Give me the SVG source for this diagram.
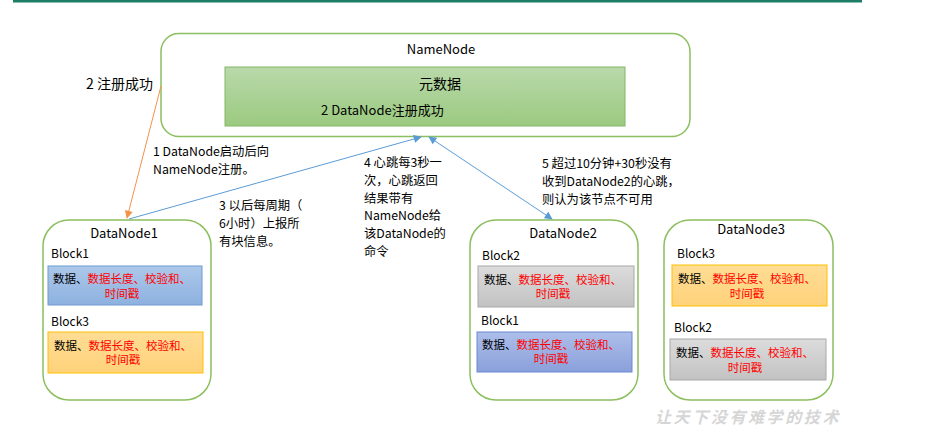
<svg xmlns="http://www.w3.org/2000/svg" width="942" height="432" viewBox="0 0 942 432">
<style>
text{font-family:"Noto Sans CJK SC","Liberation Sans",sans-serif;fill:#000;}
.t13{font-size:13px;}
.t12{font-size:12px;}
.lbl{font-size:12.3px;}
.red{fill:#ff0000;}
.node{fill:#fff;stroke:#8cbf5f;stroke-width:1.5;}
.blk{font-size:11.5px;}
</style>
<defs>
<linearGradient id="gGreen" x1="0" y1="0" x2="0" y2="1"><stop offset="0" stop-color="#b9d9aa"/><stop offset="1" stop-color="#9bca80"/></linearGradient>
<linearGradient id="gBlue1" x1="0" y1="0" x2="0" y2="1"><stop offset="0" stop-color="#acc8ea"/><stop offset="1" stop-color="#8db1df"/></linearGradient>
<linearGradient id="gBlue2" x1="0" y1="0" x2="0" y2="1"><stop offset="0" stop-color="#adbeea"/><stop offset="1" stop-color="#8aa0da"/></linearGradient>
<linearGradient id="gGray" x1="0" y1="0" x2="0" y2="1"><stop offset="0" stop-color="#dcdcdc"/><stop offset="1" stop-color="#c2c2c2"/></linearGradient>
<linearGradient id="gOrange" x1="0" y1="0" x2="0" y2="1"><stop offset="0" stop-color="#ffdd95"/><stop offset="1" stop-color="#ffd27a"/></linearGradient>
<marker id="arrB" viewBox="0 0 10 10" refX="9" refY="5" markerWidth="9" markerHeight="8" markerUnits="userSpaceOnUse" orient="auto-start-reverse"><path d="M0,0 L10,5 L0,10 z" fill="#5b9bd5"/></marker>
<marker id="arrO" viewBox="0 0 10 10" refX="9" refY="5" markerWidth="9" markerHeight="8" markerUnits="userSpaceOnUse" orient="auto"><path d="M0,0 L10,5 L0,10 z" fill="#f4924a"/></marker>
</defs>

<rect x="13" y="0" width="849" height="2.5" fill="#1e7d67"/>

<g id="namenode">
<rect class="node" x="161" y="33.5" width="529" height="103" rx="18"/>
<text class="t13" x="441" y="54" text-anchor="middle">NameNode</text>
<rect x="225" y="67" width="400" height="59" fill="url(#gGreen)" stroke="#85b665" stroke-width="1"/>
<text x="440" y="89" font-size="14" text-anchor="middle">元数据</text>
<text class="t13" x="321" y="115">2 DataNode注册成功</text>
</g>

<g id="datanode1">
<rect class="node" x="43" y="220" width="168" height="180" rx="26"/>
<text class="t13" x="124" y="238" text-anchor="middle">DataNode1</text>
<text class="t12" x="51" y="258">Block1</text>
<rect x="48" y="266" width="154" height="39" fill="url(#gBlue1)" stroke="#6f9bd1" stroke-width="1"/>
<text class="blk" x="53" y="282.5">数据、<tspan class="red">数据长度、校验和、</tspan></text>
<text class="blk red" x="122" y="297.5" text-anchor="middle">时间戳</text>
<text class="t12" x="51" y="326">Block3</text>
<rect x="48" y="332" width="155" height="41" fill="url(#gOrange)" stroke="#ffc000" stroke-width="1"/>
<text class="blk" x="54" y="349.5">数据、<tspan class="red">数据长度、校验和、</tspan></text>
<text class="blk red" x="123" y="364" text-anchor="middle">时间戳</text>
</g>

<g id="datanode2">
<rect class="node" x="470" y="220" width="168" height="180" rx="26"/>
<text class="t13" x="563" y="238" text-anchor="middle">DataNode2</text>
<text class="t12" x="482" y="260">Block2</text>
<rect x="478" y="266" width="156" height="41" fill="url(#gGray)" stroke="#a8a8a8" stroke-width="1"/>
<text class="blk" x="484" y="283.5">数据、<tspan class="red">数据长度、校验和、</tspan></text>
<text class="blk red" x="553" y="298" text-anchor="middle">时间戳</text>
<text class="t12" x="481" y="325">Block1</text>
<rect x="477" y="332" width="155" height="40" fill="url(#gBlue2)" stroke="#6b88cf" stroke-width="1"/>
<text class="blk" x="482" y="348.5">数据、<tspan class="red">数据长度、校验和、</tspan></text>
<text class="blk red" x="551" y="363" text-anchor="middle">时间戳</text>
</g>

<g id="datanode3">
<rect class="node" x="664" y="220" width="169" height="180" rx="26"/>
<text class="t13" x="751" y="234" text-anchor="middle">DataNode3</text>
<text class="t12" x="677" y="258">Block3</text>
<rect x="672" y="265" width="155" height="41" fill="url(#gOrange)" stroke="#ffc000" stroke-width="1"/>
<text class="blk" x="678" y="282.5">数据、<tspan class="red">数据长度、校验和、</tspan></text>
<text class="blk red" x="747" y="297.5" text-anchor="middle">时间戳</text>
<text class="t12" x="674" y="332">Block2</text>
<rect x="670" y="339" width="156" height="41" fill="url(#gGray)" stroke="#a8a8a8" stroke-width="1"/>
<text class="blk" x="676" y="356.5">数据、<tspan class="red">数据长度、校验和、</tspan></text>
<text class="blk red" x="745" y="371.5" text-anchor="middle">时间戳</text>
</g>

<g id="connectors" fill="none">
<line x1="161" y1="86" x2="127" y2="218" stroke="#f4924a" stroke-width="1" marker-end="url(#arrO)"/>
<line x1="129" y1="219" x2="421" y2="137" stroke="#5b9bd5" stroke-width="1" marker-end="url(#arrB)"/>
<line x1="429" y1="137" x2="552" y2="219" stroke="#5b9bd5" stroke-width="1" marker-start="url(#arrB)" marker-end="url(#arrB)"/>
</g>

<g id="labels">
<text x="86" y="89" font-size="14">2 注册成功</text>
<text class="lbl" x="153" y="156">1 DataNode启动后向<tspan x="153" dy="17.8">NameNode注册。</tspan></text>
<text class="lbl" x="219" y="210">3 以后每周期（<tspan x="219" dy="17.8">6小时）上报所</tspan><tspan x="219" dy="17.8">有块信息。</tspan></text>
<text class="lbl" x="364" y="167">4 心跳每3秒一<tspan x="364" dy="17.8">次，心跳返回</tspan><tspan x="364" dy="17.8">结果带有</tspan><tspan x="364" dy="17.8">NameNode给</tspan><tspan x="364" dy="17.8">该DataNode的</tspan><tspan x="364" dy="17.8">命令</tspan></text>
<text class="lbl" x="542" y="168">5 超过10分钟+30秒没有<tspan x="542" dy="17.8">收到DataNode2的心跳，</tspan><tspan x="542" dy="17.8">则认为该节点不可用</tspan></text>
<text x="655" y="423" font-size="16" letter-spacing="2.6" style="fill:#d6d6d6;font-style:italic;font-weight:bold">让天下没有难学的技术</text>
</g>
</svg>
